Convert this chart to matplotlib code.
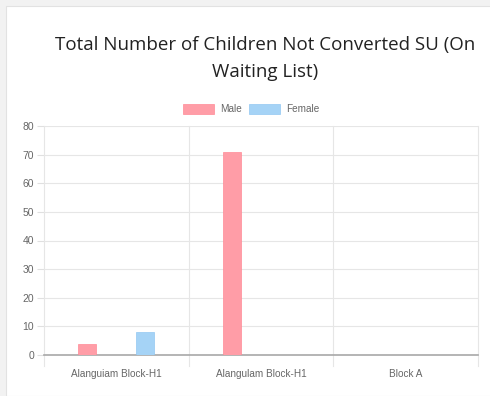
import matplotlib.pyplot as plt
from matplotlib.patches import Rectangle
import numpy as np

categories = ["Alanguiam Block-H1", "Alangulam Block-H1", "Block A"]
male = [4, 71, 0]
female = [8, 0, 0]
y_ticks = [0, 10, 20, 30, 40, 50, 60, 70, 80]

label_font = ["Liberation Sans", "DejaVu Sans"]

W, H = 490, 396
fig = plt.figure(figsize=(W / 100, H / 100), dpi=100, facecolor="#f2f2f2")

# white card behind the chart
fig.patches.append(Rectangle((6 / W, 0), 1, 1 - 6 / H, transform=fig.transFigure,
                             facecolor="white", edgecolor="#e2e2e2", linewidth=0.8, zorder=-10))

ax = fig.add_axes([44 / W, (H - 355) / H, (478 - 44) / W, (355 - 126) / H])
ax.set_facecolor("none")

x = np.arange(len(categories))
bar_w = 18 / 145
ax.bar(x - 0.2, male, bar_w, color="#ff9da7", edgecolor="#ff8a96", linewidth=0.5, label="Male", zorder=3)
ax.bar(x + 0.2, female, bar_w, color="#a5d3f6", edgecolor="#92c8f2", linewidth=0.5, label="Female", zorder=3)

ax.set_xlim(-0.5, 2.5)
ax.set_ylim(0, 80)
ax.set_yticks(y_ticks)
ax.set_xticks(x)
ax.set_xticklabels(categories)

# vertical grid lines between categories, running down past the axis
for b in [-0.5, 0.5, 1.5, 2.5]:
    ax.plot([b, b], [-4, 80], color="#e6e6e6", linewidth=0.8, clip_on=False, zorder=1)
ax.yaxis.grid(True, color="#e6e6e6", linewidth=0.8, zorder=1)
ax.set_axisbelow(True)

for s in ["top", "right", "left"]:
    ax.spines[s].set_visible(False)
ax.spines["bottom"].set_color("#a8a8a8")
ax.spines["bottom"].set_linewidth(1.2)
ax.tick_params(axis="x", length=0, pad=10, labelsize=7.2, labelcolor="#666666")
ax.tick_params(axis="y", length=5, width=0.8, color="#e0e0e0", pad=2, labelsize=7.5, labelcolor="#666666")
for lbl in ax.get_xticklabels() + ax.get_yticklabels():
    lbl.set_family(label_font)

fig.text(265 / W, 1 - 45 / H, "Total Number of Children Not Converted SU (On",
         ha="center", va="center", fontsize=13.5, color="#222222", family="Open Sans")
fig.text(265 / W, 1 - 72 / H, "Waiting List)",
         ha="center", va="center", fontsize=13.5, color="#222222", family="Open Sans")

fig.legend(loc="center", bbox_to_anchor=(251 / W, 1 - 109 / H), ncol=2, frameon=False,
           prop={"family": label_font, "size": 7.2}, labelcolor="#666666",
           handlelength=3.1, handleheight=1.3, handletextpad=0.6, columnspacing=0.7)

fig.savefig("out.png", dpi=100, facecolor=fig.get_facecolor())
